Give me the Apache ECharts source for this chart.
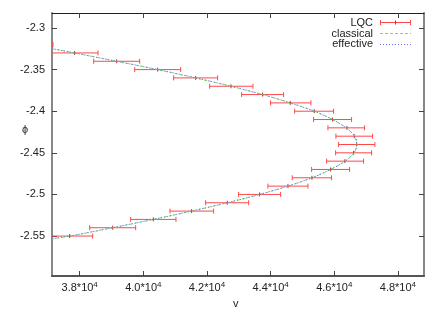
<!DOCTYPE html>
<html><head><meta charset="utf-8">
<script src="https://cdn.jsdelivr.net/npm/echarts@6/dist/echarts.min.js"></script>
<style>html,body{margin:0;padding:0;background:#fff}#c{width:443px;height:310px}</style>
</head><body><div id="c"></div>
<script>
// LQC data points: phi, bar centre (v), lower and upper ends of horizontal error bar
const lqcPhi    = [-2.32, -2.33, -2.34, -2.35, -2.36, -2.37, -2.38, -2.39, -2.40, -2.41, -2.42, -2.43, -2.44, -2.45, -2.46, -2.47, -2.48, -2.49, -2.50, -2.51, -2.52, -2.53, -2.54, -2.55];
const lqcCenter = [36470, 37842, 39162, 40450, 41644, 42754, 43749, 44617, 45372, 45947, 46398, 46628, 46701, 46607, 46335, 45885, 45298, 44544, 43654, 42638, 41518, 40314, 39037, 37686];
const lqcLow    = [35780, 37099, 38440, 39728, 40953, 42084, 43089, 43999, 44754, 45350, 45801, 46052, 46136, 46042, 45759, 45288, 44680, 43916, 42994, 41958, 40838, 39602, 38314, 36964];
const lqcHigh   = [37160, 38577, 39885, 41173, 42335, 43445, 44408, 45267, 45979, 46544, 46953, 47204, 47277, 47173, 46921, 46482, 45916, 45173, 44314, 43309, 42209, 41026, 39759, 38408];

// classical and effective trajectories (v, phi)
const classicalV   = [37133, 37832, 39162, 40450, 41644, 42754, 43749, 44617, 45372, 45947, 46375, 46640, 46712, 46620, 46345, 45885, 45298, 44544, 43654, 42638, 41518, 40314, 39037, 37686, 37133];
const classicalPhi = [-2.3249, -2.33, -2.34, -2.35, -2.36, -2.37, -2.38, -2.39, -2.40, -2.41, -2.42, -2.43, -2.44, -2.45, -2.46, -2.47, -2.48, -2.49, -2.50, -2.51, -2.52, -2.53, -2.54, -2.55, -2.5532];
const effectiveV   = [37133, 37832, 39162, 40450, 41644, 42754, 43749, 44617, 45372, 45947, 46375, 46640, 46712, 46620, 46345, 45885, 45298, 44544, 43654, 42638, 41518, 40314, 39037, 37686, 37133];
const effectivePhi = [-2.3249, -2.33, -2.34, -2.35, -2.36, -2.37, -2.38, -2.39, -2.40, -2.41, -2.42, -2.43, -2.44, -2.45, -2.46, -2.47, -2.48, -2.49, -2.50, -2.51, -2.52, -2.53, -2.54, -2.55, -2.5532];

const xTicks = [38000, 40000, 42000, 44000, 46000, 48000];
const yTicks = [-2.55, -2.5, -2.45, -2.4, -2.35, -2.3];
const xMin = 37130, xMax = 48820, yMin = -2.598, yMax = -2.282;

const FONT = 'Liberation Sans, Arial, sans-serif';
const chart = echarts.init(document.getElementById('c'), null, {renderer: 'canvas'});

const lqcData = lqcPhi.map((p, i) => [lqcLow[i], lqcHigh[i], lqcCenter[i], p]);
const classicalData = classicalV.map((v, i) => [v, classicalPhi[i]]);
const effectiveData = effectiveV.map((v, i) => [v, effectivePhi[i]]);

const RED = '#ff4848';
const GREEN = '#6ee06e';
const BLUE = '#6a6aff';

function renderBar(params, api) {
  const phi = api.value(3);
  const a = api.coord([api.value(0), phi]);
  const b = api.coord([api.value(1), phi]);
  const c = api.coord([api.value(2), phi]);
  const cs = params.coordSys;
  const x0 = cs.x, x1 = cs.x + cs.width;
  const children = [];
  const la = Math.max(a[0], x0), lb = Math.min(b[0], x1);
  if (lb > la) {
    children.push({type: 'line', shape: {x1: la, y1: a[1], x2: lb, y2: a[1]}, style: {stroke: RED, lineWidth: 1}});
  }
  [a[0], b[0]].forEach(x => {
    if (x >= x0 - 0.5 && x <= x1 + 0.5) {
      children.push({type: 'line', shape: {x1: x, y1: a[1] - 2.5, x2: x, y2: a[1] + 2.5}, style: {stroke: RED, lineWidth: 1}});
    }
  });
  if (c[0] >= x0 && c[0] <= x1) {
    children.push({type: 'line', shape: {x1: c[0], y1: c[1] - 2, x2: c[0], y2: c[1] + 2}, style: {stroke: '#c03030', lineWidth: 1}});
  }
  return {type: 'group', children};
}

const axisCommon = {
  type: 'value', splitLine: {show: false}, scale: true,
};

const option = {
  animation: false,
  backgroundColor: '#fff',
  grid: {left: 52, top: 13, width: 372, height: 263, containLabel: false},
  xAxis: [
    Object.assign({}, axisCommon, {
      min: xMin, max: xMax, position: 'bottom',
      axisLine: {show: true, lineStyle: {color: '#555', width: 2}},
      axisTick: {show: true, inside: true, length: 5, customValues: xTicks, lineStyle: {color: '#444', width: 1}},
      axisLabel: {
        show: true, customValues: xTicks, margin: 5,
        formatter: v => '{a|' + (v / 10000).toFixed(1) + '*10}{s|4}',
        rich: {
          a: {fontSize: 11, fontFamily: FONT, color: '#222', lineHeight: 14},
          s: {fontSize: 8, fontFamily: FONT, color: '#222', verticalAlign: 'top', lineHeight: 9}
        }
      }
    }),
    Object.assign({}, axisCommon, {
      min: xMin, max: xMax, position: 'top',
      axisLine: {show: true, lineStyle: {color: '#222', width: 1}},
      axisTick: {show: true, inside: true, length: 5, customValues: xTicks, lineStyle: {color: '#444', width: 1}},
      axisLabel: {show: false}
    })
  ],
  yAxis: [
    Object.assign({}, axisCommon, {
      min: yMin, max: yMax, position: 'left',
      axisLine: {show: true, lineStyle: {color: '#888', width: 2}},
      axisTick: {show: true, inside: true, length: 5, customValues: yTicks, lineStyle: {color: '#444', width: 1}},
      axisLabel: {show: true, customValues: yTicks, margin: 7, fontSize: 11, fontFamily: FONT, color: '#222',
        formatter: v => String(+(+v).toFixed(2))}
    }),
    Object.assign({}, axisCommon, {
      min: yMin, max: yMax, position: 'right',
      axisLine: {show: true, lineStyle: {color: '#888', width: 2}},
      axisTick: {show: true, inside: true, length: 5, customValues: yTicks, lineStyle: {color: '#444', width: 1}},
      axisLabel: {show: false}
    })
  ],
  series: [
    {
      name: 'LQC', type: 'custom', xAxisIndex: 0, yAxisIndex: 0,
      renderItem: renderBar, data: lqcData,
      encode: {x: [0, 1, 2], y: 3}, z: 2
    },
    {
      name: 'classical', type: 'line', xAxisIndex: 0, yAxisIndex: 0,
      data: classicalData, smooth: 0.3, showSymbol: false, symbol: 'none',
      lineStyle: {color: GREEN, width: 1, type: [3, 2]}, z: 3
    },
    {
      name: 'effective', type: 'line', xAxisIndex: 0, yAxisIndex: 0,
      data: effectiveData, smooth: 0.3, showSymbol: false, symbol: 'none',
      lineStyle: {color: BLUE, width: 1, type: [1, 2]}, z: 4
    }
  ],
  graphic: [
    {type: 'text', left: 233, top: 298, style: {text: 'v', fontSize: 11, fontFamily: FONT, fill: '#222'}},
    {type: 'text', x: 25, y: 130, style: {text: 'ϕ', fontSize: 11, fontFamily: FONT, fill: '#222', align: 'center', verticalAlign: 'middle'}},
    // legend
    {type: 'text', x: 373, y: 22.7, style: {text: 'LQC', fontSize: 11, fontFamily: FONT, fill: '#222', align: 'right', verticalAlign: 'middle'}},
    {type: 'text', x: 373, y: 33.5, style: {text: 'classical', fontSize: 11, fontFamily: FONT, fill: '#222', align: 'right', verticalAlign: 'middle'}},
    {type: 'text', x: 373, y: 44.3, style: {text: 'effective', fontSize: 11, fontFamily: FONT, fill: '#222', align: 'right', verticalAlign: 'middle'}},
    {type: 'line', shape: {x1: 380, y1: 22.5, x2: 410.5, y2: 22.5}, style: {stroke: RED, lineWidth: 1}},
    {type: 'line', shape: {x1: 380.5, y1: 20, x2: 380.5, y2: 25}, style: {stroke: RED, lineWidth: 1}},
    {type: 'line', shape: {x1: 410.5, y1: 20, x2: 410.5, y2: 25}, style: {stroke: RED, lineWidth: 1}},
    {type: 'line', shape: {x1: 395.5, y1: 20.5, x2: 395.5, y2: 24.5}, style: {stroke: '#c03030', lineWidth: 1}},
    {type: 'line', shape: {x1: 380, y1: 33.5, x2: 411, y2: 33.5}, style: {stroke: GREEN, lineWidth: 1, lineDash: [3, 2]}},
    {type: 'line', shape: {x1: 380, y1: 44.5, x2: 411, y2: 44.5}, style: {stroke: BLUE, lineWidth: 1, lineDash: [1, 2]}}
  ]
};
chart.setOption(option);
</script>
</body></html>
